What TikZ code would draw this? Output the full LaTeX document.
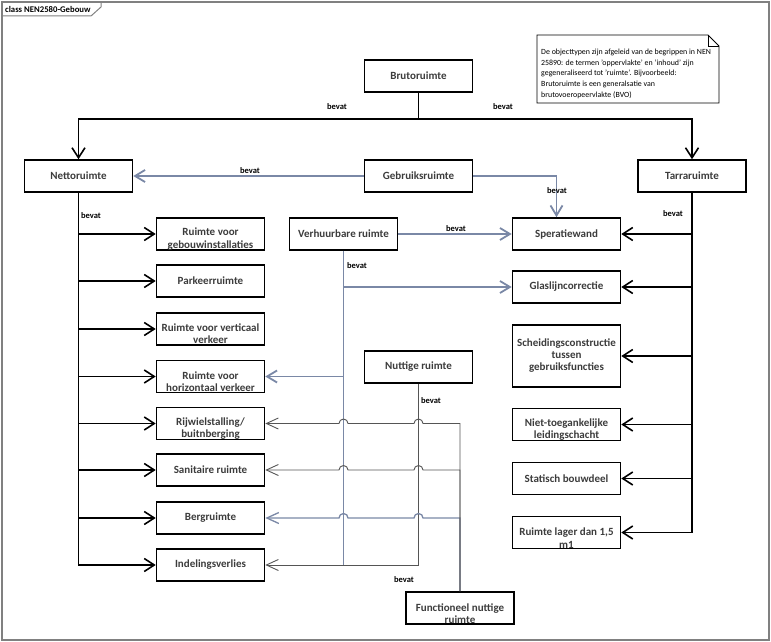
\documentclass[tikz,border=0pt]{standalone}
\usepackage{fontspec}
\setmainfont{Carlito}
\usetikzlibrary{arrows.meta}
\definecolor{conblue}{RGB}{122,136,166}
\definecolor{congray}{RGB}{85,85,85}
\definecolor{boxtext}{RGB}{60,60,60}
\definecolor{framegray}{RGB}{128,128,128}
\begin{document}
\begin{tikzpicture}[x=1pt,y=1pt,
 box/.style={draw=black,line width=1.6pt,fill=white,minimum width=108pt,minimum height=32pt,inner sep=1pt,align=center,text=boxtext,font=\fontsize{11}{12}\selectfont\bfseries},
 boxtxt/.style={inner sep=0pt,align=center,text=boxtext,font=\fontsize{11}{12.5}\selectfont\bfseries},
 lbl/.style={font=\fontsize{8.5}{10}\selectfont\bfseries,text=black,inner sep=0pt},
 blk/.style={draw=black,line width=1.6pt,-{Straight Barb[length=10pt,width=13pt]}},
 blu/.style={draw=conblue,line width=1.8pt,-{Straight Barb[length=10pt,width=12pt]}},
 gry/.style={draw=congray,line width=0.9pt,-{Straight Barb[length=12pt,width=11pt]}},
 hop/.style={start angle=0,end angle=180,radius=4.5pt},
]
\useasboundingbox (0,0) rectangle (771,-642);
% frame
\draw[framegray,line width=1.5pt] (2,-2) rectangle (769,-640);
\draw[framegray,line width=1pt] (2,-16) -- (91,-16) -- (101,-7) -- (101,-2);
\node[anchor=west,inner sep=0pt,font=\fontsize{8.7}{10}\selectfont\bfseries] (ftitle) at (5,-9.5) {class NEN2580-Gebouw};
% note
\draw[black,line width=0.8pt,fill=white] (537,-35) -- (708,-35) -- (719,-46) -- (719,-103) -- (537,-103) -- cycle;
\draw[black,line width=0.8pt] (708,-35) -- (708,-46) -- (719,-46);
\node[anchor=north west,inner sep=0pt,align=left,font=\fontsize{7.9}{10.6}\selectfont] (note) at (541,-49)
 {De objecttypen zijn afgeleid van de begrippen in NEN\\25890: de termen 'oppervlakte' en 'inhoud' zijn\\gegeneraliseerd tot 'ruimte'. Bijvoorbeeld:\\Brutoruimte is een generalsatie van\\brutovoeropeervlakte (BVO)};
% boxes
\node[box] (bruto) at (418.5,-76) {Brutoruimte};
\node[box] (netto) at (78.5,-176) {Nettoruimte};
\node[box] (gebr) at (418.5,-176) {Gebruiksruimte};
\node[box] (tarra) at (692,-176) {Tarraruimte};
\node[box] (rvg) at (210.5,-234) {};
\node[boxtxt] (rvgt) at ([yshift=-5pt]rvg.center) {Ruimte voor\\gebouwinstallaties};
\node[box] (park) at (210.5,-281) {Parkeerruimte};
\node[box] (rvv) at (210.5,-329) {};
\node[boxtxt] (rvvt) at ([yshift=-4.5pt]rvv.center) {Ruimte voor verticaal\\verkeer};
\node[box] (rvh) at (210.5,-376.5) {};
\node[boxtxt] (rvht) at ([yshift=-5pt]rvh.center) {Ruimte voor\\horizontaal verkeer};
\node[box] (rijw) at (210.5,-423.5) {};
\node[boxtxt] (rijwt) at ([yshift=-5pt]rijw.center) {Rijwielstalling/\\buitnberging};
\node[box] (sani) at (210.5,-470) {Sanitaire ruimte};
\node[box] (berg) at (210.5,-518) {Bergruimte};
\node[box] (indel) at (210.5,-565) {Indelingsverlies};
\node[box] (verh) at (343.5,-234) {Verhuurbare ruimte};
\node[box] (sper) at (566.5,-234) {Speratiewand};
\node[box] (glas) at (566.5,-287) {Glaslijncorrectie};
\node[box,minimum height=62pt] (sched) at (566.5,-356) {Scheidingsconstructie\\tussen\\gebruiksfuncties};
\node[box] (niet) at (566.5,-424.5) {};
\node[boxtxt] (niett) at ([yshift=-5pt]niet.center) {Niet-toegankelijke\\leidingschacht};
\node[box] (stat) at (566.5,-478.5) {Statisch bouwdeel};
\node[box] (lager) at (566.5,-532.5) {};
\node[boxtxt] (lagert) at ([yshift=-5.5pt]lager.center) {Ruimte lager dan 1,5\\m1};
\node[box] (nutt) at (418.5,-367) {Nuttige ruimte};
\node[box] (func) at (460,-608) {};
\node[boxtxt] (funct) at ([yshift=-5.5pt]func.center) {Functioneel nuttige\\ruimte};
% Brutoruimte
\coordinate (hbar) at (0,-119);
\draw[blk] (bruto.south) -- (bruto.south |- hbar) -| (netto.north);
\draw[blk] (bruto.south) -- (bruto.south |- hbar) -| (tarra.north);
\node[lbl] (lb1) at (337,-107) {bevat};
\node[lbl] (lb2) at (503,-107) {bevat};
% Nettoruimte
\foreach \t in {rvg,park,rvv,rvh,rijw,sani,berg,indel}
  \draw[blk] (netto.south) |- (\t.west);
\node[lbl] (lb3) at (91,-216) {bevat};
% Tarraruimte
\foreach \t in {sper,glas,sched,niet,stat,lager}
  \draw[blk] (tarra.south) |- (\t.east);
\node[lbl] (lb4) at (673,-214) {bevat};
% Gebruiksruimte
\draw[blu] (gebr.west) -- (netto.east);
\node[lbl] (lb5) at (250,-171) {bevat};
\coordinate (spj) at ([xshift=-10pt]sper.north);
\draw[blu] (gebr.east) -| (spj);
\node[lbl] (lb6) at (557,-191) {bevat};
% Verhuurbare ruimte
\draw[blu] (verh.east) -- (sper.west);
\node[lbl] (lb7) at (456,-229) {bevat};
\draw[blu] (verh.south) |- (glas.west);
\draw[blu] (verh.south) |- (rvh.east);
\draw[conblue,line width=1.8pt] (verh.south) -- (verh.south |- indel.east);
\node[lbl] (lb8) at (357,-266) {bevat};
% Nuttige ruimte
\draw[gry] (nutt.south) |- (indel.east);
\node[lbl] (lb9) at (431,-401) {bevat};
% Functioneel nuttige ruimte
\draw[gry,draw=conblue,line width=1.3pt] (func.north) -- (func.north |- berg.east)
  -- ([xshift=4.5pt]nutt.south |- berg.east) arc[hop]
  -- ([xshift=4.5pt]verh.south |- berg.east) arc[hop] -- (berg.east);
\draw[gry] (func.north) -- (func.north |- sani.east)
  -- ([xshift=4.5pt]nutt.south |- sani.east) arc[hop]
  -- ([xshift=4.5pt]verh.south |- sani.east) arc[hop] -- (sani.east);
\draw[gry] (func.north) -- (func.north |- rijw.east)
  -- ([xshift=4.5pt]nutt.south |- rijw.east) arc[hop]
  -- ([xshift=4.5pt]verh.south |- rijw.east) arc[hop] -- (rijw.east);
\node[lbl] (lb10) at (404,-580) {bevat};
\end{tikzpicture}
\end{document}
